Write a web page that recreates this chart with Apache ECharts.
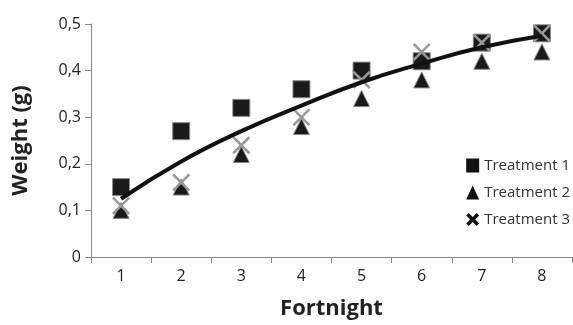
<!DOCTYPE html>
<html><head><meta charset="utf-8">
<script src="https://cdn.jsdelivr.net/npm/echarts@6/dist/echarts.min.js"></script>
<style>html,body{margin:0;padding:0;background:#fff}#c{width:573px;height:325px}</style>
</head><body><div id="c"></div>
<script>
var categories = ['1','2','3','4','5','6','7','8'];
var treatment1 = [0.15, 0.27, 0.32, 0.36, 0.40, 0.42, 0.46, 0.48];
var treatment2 = [0.10, 0.15, 0.22, 0.28, 0.34, 0.38, 0.42, 0.44];
var treatment3 = [0.11, 0.16, 0.24, 0.30, 0.38, 0.44, 0.46, 0.48];
var trend = [0.125, 0.205, 0.27, 0.325, 0.375, 0.415, 0.45, 0.475];
var yTicks = [0, 0.1, 0.2, 0.3, 0.4, 0.5];

var xPath = 'path://M0,1L1,0L5,4L9,0L10,1L6,5L10,9L9,10L5,6L1,10L0,9L4,5Z';
var xPathBold = 'path://M0,2L2,0L5,3L8,0L10,2L7,5L10,8L8,10L5,7L2,10L0,8L3,5Z';
var chart = echarts.init(document.getElementById('c'), null, {renderer:'canvas'});
var font = 'Open Sans';
chart.setOption({
  animation:false,
  grid:{left:91,right:1,top:24,bottom:65,containLabel:false},
  legend:{
    orient:'vertical', right:3, top:158, padding:0, itemGap:12, itemWidth:13, itemHeight:14,
    textStyle:{fontFamily:font,fontSize:15,color:'#333'},
    data:[
      {name:'Treatment 1', icon:'rect', itemStyle:{color:'#111',borderWidth:0,opacity:1}},
      {name:'Treatment 2', icon:'triangle', itemStyle:{color:'#111',borderWidth:0,opacity:1}},
      {name:'Treatment 3', icon:xPathBold, itemStyle:{color:'#111',borderWidth:0,opacity:1}}
    ]
  },
  xAxis:{
    type:'category', data:categories, boundaryGap:true,
    name:'Fortnight', nameLocation:'middle', nameGap:41,
    nameTextStyle:{fontFamily:font,fontSize:22,fontWeight:'bold',color:'#222'},
    axisLine:{lineStyle:{color:'#888',width:1}},
    axisTick:{show:true,length:6,lineStyle:{color:'#888'}},
    axisLabel:{fontFamily:font,fontSize:16,color:'#222',margin:11}
  },
  yAxis:{
    type:'value', min:0, max:0.5, interval:0.1,
    name:'Weight (g)', nameLocation:'middle', nameGap:59,
    nameTextStyle:{fontFamily:font,fontSize:22,fontWeight:'bold',color:'#222'},
    axisLine:{show:true,lineStyle:{color:'#888',width:1}},
    axisTick:{show:true,length:6,lineStyle:{color:'#888'}},
    splitLine:{show:false},
    axisLabel:{fontFamily:font,fontSize:16,color:'#222',margin:10,
      formatter:function(v){ var r = yTicks.find(function(t){return Math.abs(t-v)<1e-9;}); return String(r!==undefined?r:v).replace('.',','); }}
  },
  series:[
    {name:'Treatment 1', type:'scatter', data:treatment1, symbol:'rect', symbolSize:17, z:2,
      itemStyle:{color:'#1a1a1a',borderColor:'#888',borderWidth:1,opacity:1}},
    {name:'Treatment 2', type:'scatter', data:treatment2, symbol:'triangle', symbolSize:16, z:3,
      itemStyle:{color:'#1a1a1a',borderColor:'#888',borderWidth:1,opacity:1}},
    {name:'Treatment 3', type:'scatter', data:treatment3, symbol:xPath, symbolSize:18, z:4,
      itemStyle:{color:'#999',opacity:1}},
    {name:'Trend', type:'line', data:trend, smooth:true, symbol:'none', z:5,
      lineStyle:{color:'#111',width:4}}
  ]
});
</script></body></html>
